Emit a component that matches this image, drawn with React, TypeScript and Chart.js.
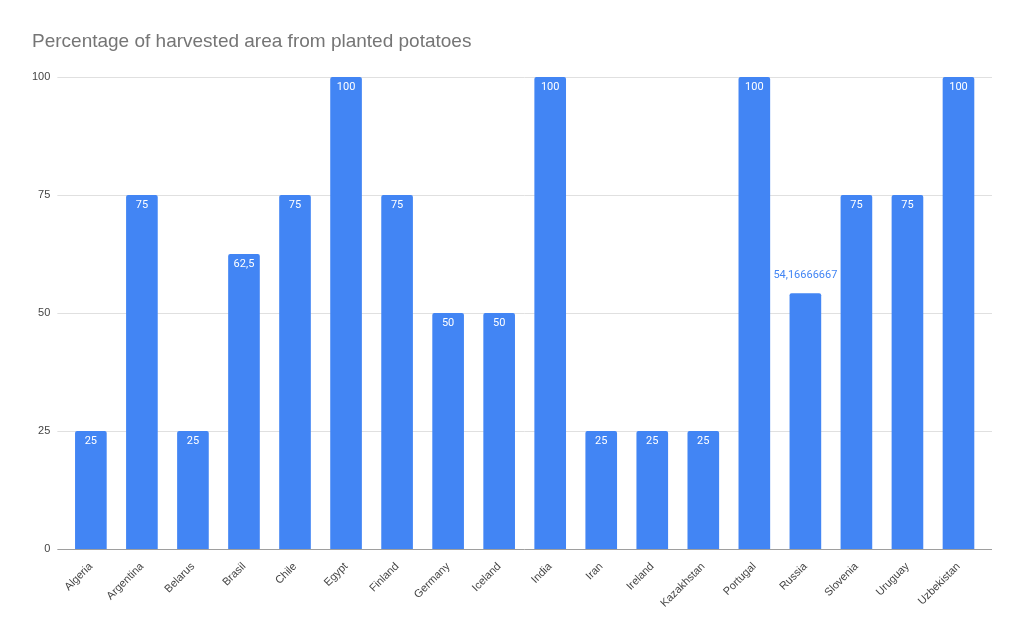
import { useEffect, useRef } from 'react';
import { Chart, ChartConfiguration, Plugin, registerables } from 'chart.js';

Chart.register(...registerables);

const countries = [
  'Algeria', 'Argentina', 'Belarus', 'Brasil', 'Chile', 'Egypt', 'Finland', 'Germany', 'Iceland',
  'India', 'Iran', 'Ireland', 'Kazakhstan', 'Portugal', 'Russia', 'Slovenia', 'Uruguay', 'Uzbekistan',
];
const harvestedPct = [25, 75, 25, 62.5, 75, 100, 75, 50, 50, 100, 25, 25, 25, 100, 54.16666667, 75, 75, 100];
const yTicks = [0, 25, 50, 75, 100];
const chartTitle = 'Percentage of harvested area from planted potatoes';

const BAR_COLOR = '#4285F4';
const FONT = 'Arial, "Liberation Sans", sans-serif';
const LABEL_FONT = 'Roboto, "Noto Sans", sans-serif';
const GRID_OVERHANG = 8;

// title drawn by hand so it can sit left of the y axis labels
const titlePlugin: Plugin<'bar'> = {
  id: 'sheetTitle',
  afterDraw(chart) {
    const ctx = chart.ctx;
    ctx.save();
    ctx.font = `19px ${FONT}`;
    ctx.fillStyle = '#757575';
    ctx.textAlign = 'left';
    ctx.textBaseline = 'middle';
    ctx.fillText(chartTitle, 32, 42);
    ctx.restore();
  },
};

// gridlines run a little past the bars on both sides, like Sheets does
const wideGrid: Plugin<'bar'> = {
  id: 'wideGrid',
  beforeDatasetsDraw(chart) {
    const { ctx, chartArea, scales } = chart;
    ctx.save();
    ctx.lineWidth = 1;
    yTicks.forEach((v) => {
      const y = Math.round(scales.y.getPixelForValue(v)) + 0.5;
      ctx.strokeStyle = v === 0 ? '#9e9e9e' : '#e0e0e0';
      ctx.beginPath();
      ctx.moveTo(chartArea.left - GRID_OVERHANG, y);
      ctx.lineTo(chartArea.right + GRID_OVERHANG, y);
      ctx.stroke();
    });
    ctx.restore();
  },
};

// value labels: inside the top of the bar, or above it when too wide
const valueLabels: Plugin<'bar'> = {
  id: 'valueLabels',
  afterDatasetsDraw(chart) {
    const ctx = chart.ctx;
    const meta = chart.getDatasetMeta(0);
    ctx.save();
    ctx.font = `11px ${LABEL_FONT}`;
    ctx.textAlign = 'center';
    ctx.textBaseline = 'middle';
    meta.data.forEach((bar: any, i) => {
      const text = String(harvestedPct[i]).replace('.', ',');
      const w = ctx.measureText(text).width;
      if (w + 4 > bar.width) {
        ctx.fillStyle = BAR_COLOR;
        ctx.fillText(text, bar.x, bar.y - 18);
      } else {
        ctx.fillStyle = '#ffffff';
        ctx.fillText(text, bar.x, bar.y + 10);
      }
    });
    ctx.restore();
  },
};

export default function App() {
  const chartRef = useRef<HTMLCanvasElement>(null);
  const chartInstance = useRef<Chart | null>(null);

  useEffect(() => {
    if (!chartRef.current) return;
    document.body.style.margin = '0';

    if (chartInstance.current) {
      chartInstance.current.destroy();
    }

    const config: ChartConfiguration<'bar'> = {
      type: 'bar',
      data: {
        labels: countries,
        datasets: [
          {
            data: harvestedPct,
            backgroundColor: BAR_COLOR,
            borderRadius: 2,
            categoryPercentage: 1,
            barPercentage: 0.62,
          },
        ],
      },
      options: {
        animation: false,
        responsive: false,
        maintainAspectRatio: false,
        layout: { padding: { left: 17, right: 40, top: 77, bottom: 21 } },
        plugins: {
          legend: { display: false },
          tooltip: { enabled: false },
          title: { display: false },
        },
        scales: {
          x: {
            grid: { display: false },
            border: { display: false },
            ticks: {
              color: '#444444',
              font: { family: FONT, size: 11 },
              minRotation: 45,
              maxRotation: 45,
              autoSkip: false,
            },
          },
          y: {
            min: 0,
            max: 100,
            afterBuildTicks: (axis) => {
              axis.ticks = yTicks.map((v) => ({ value: v }));
            },
            grid: { display: false, drawTicks: false },
            border: { display: false },
            ticks: {
              color: '#444444',
              font: { family: FONT, size: 11 },
              padding: 15,
            },
          },
        },
      },
      plugins: [wideGrid, valueLabels, titlePlugin],
    };

    chartInstance.current = new Chart(chartRef.current, config);

    return () => {
      if (chartInstance.current) {
        chartInstance.current.destroy();
        chartInstance.current = null;
      }
    };
  }, []);

  return (
    <div style={{ width: 1024, height: 634, background: '#ffffff' }}>
      <canvas ref={chartRef} width={1024} height={634}></canvas>
    </div>
  );
}
